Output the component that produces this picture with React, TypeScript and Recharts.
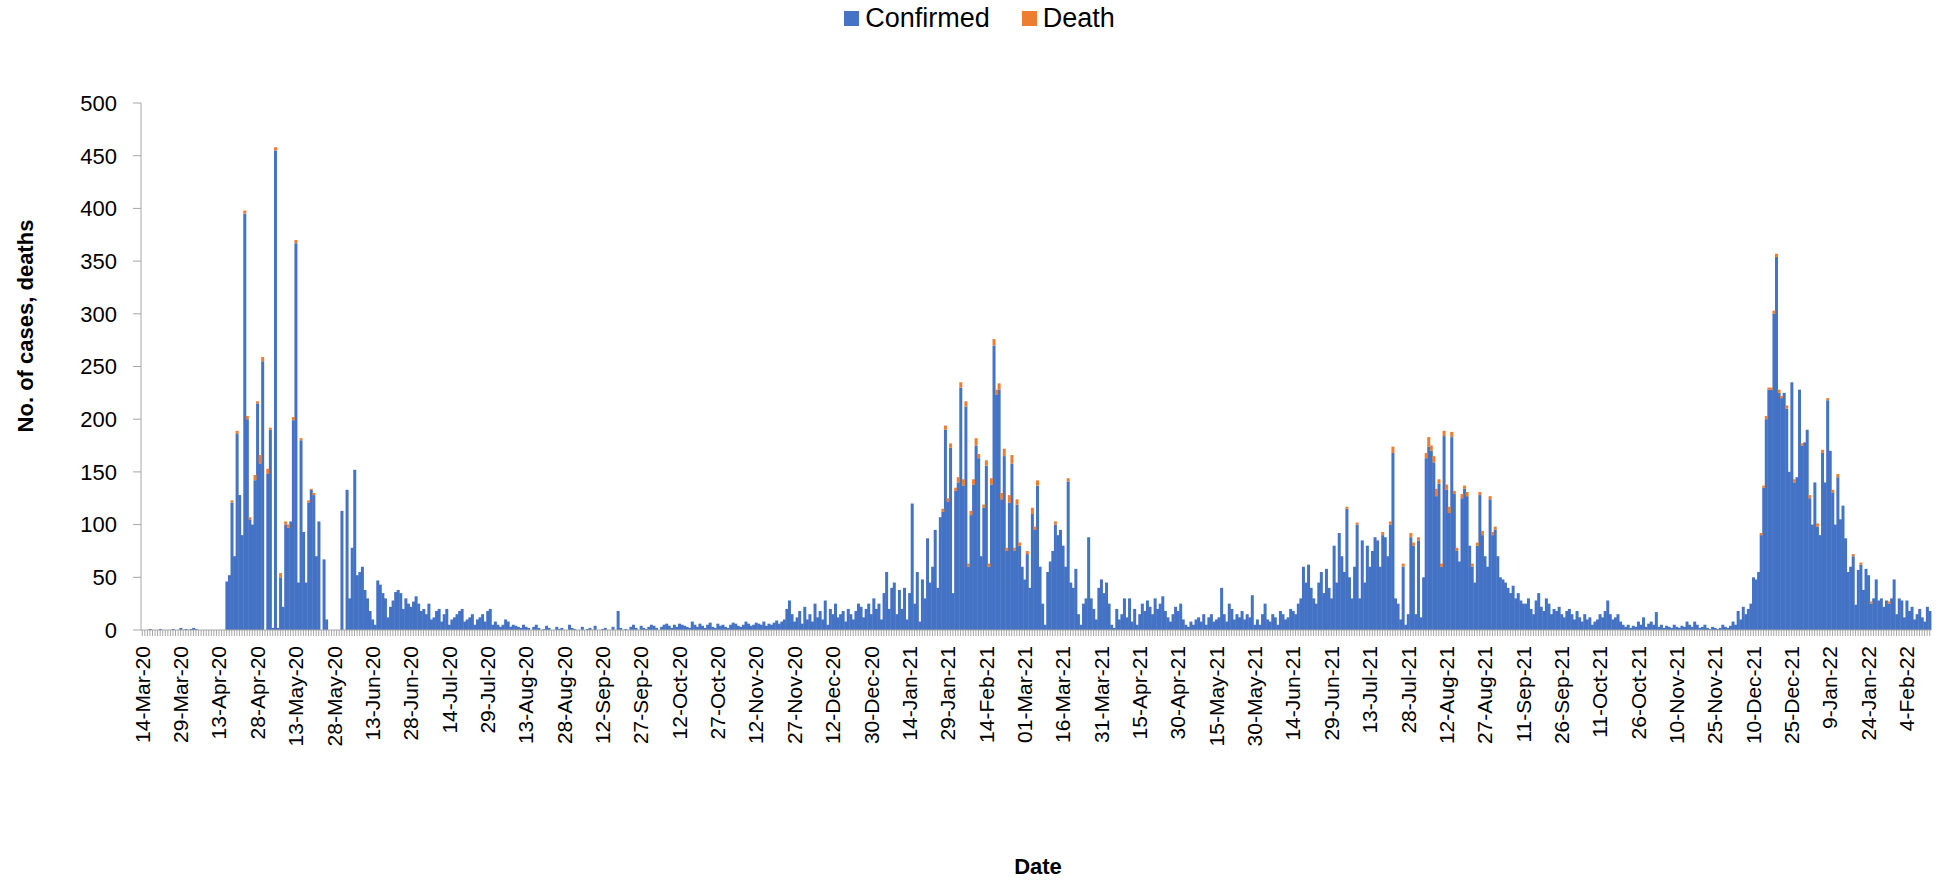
import React from 'react';
import { BarChart, Bar, XAxis, YAxis } from 'recharts';

const FONT = "'Liberation Sans', Arial, sans-serif";

const tickLabels = [
  '14-Mar-20', '29-Mar-20', '13-Apr-20', '28-Apr-20', '13-May-20', '28-May-20', '13-Jun-20', '28-Jun-20',
  '14-Jul-20', '29-Jul-20', '13-Aug-20', '28-Aug-20', '12-Sep-20', '27-Sep-20', '12-Oct-20', '27-Oct-20',
  '12-Nov-20', '27-Nov-20', '12-Dec-20', '30-Dec-20', '14-Jan-21', '29-Jan-21', '14-Feb-21', '01-Mar-21',
  '16-Mar-21', '31-Mar-21', '15-Apr-21', '30-Apr-21', '15-May-21', '30-May-21', '14-Jun-21', '29-Jun-21',
  '13-Jul-21', '28-Jul-21', '12-Aug-21', '27-Aug-21', '11-Sep-21', '26-Sep-21', '11-Oct-21', '26-Oct-21',
  '10-Nov-21', '25-Nov-21', '10-Dec-21', '25-Dec-21', '9-Jan-22', '24-Jan-22', '4-Feb-22',
];
const LABEL_EVERY = 15;

// Daily confirmed cases, in chunks (index 0 = 14-Mar-20)
const confirmedA = [
  0,0,0,1,0,0,0,1,0,0, 0,0,1,0,0,2,0,1,0,1, 2,1,0,0,0,0,0,0,0,0, 0,0,0,
  46,52,121,70,186,128,90,395,200,105, 100,142,215,158,255,0,148,190,2,455,
  2,50,22,100,97,103,199,367,45,180, 93,45,121,133,128,70,103,0,67,10,
  0,0,0,0,0,113,0,133,30,78, 152,52,55,60,38,30,18,10,
  5,47,43,35,30,12,22,28,36,38, 35,20,30,25,22,27,32,25,18,20,
  15,25,10,12,18,20,8,15,20,5, 10,12,15,18,20,8,10,12,15,5,
  10,12,15,8,18,20,5,8,5,3, 5,10,8,3,5,4,3,2,5,
];
const confirmedB = [
  3,
  2,0,3,5,2,0,1,4,2,0, 0,3,1,2,0,0,5,2,1,0, 0,3,0,1,2,0,4,0,0,1,
  2,0,0,3,0,18,2,0,1,0, 3,5,2,0,4,2,1,3,5,4, 2,0,3,5,6,4,2,5,3,6,
  5,4,3,2,8,5,3,6,4,2, 5,7,3,2,6,4,5,3,2,5, 7,6,4,3,5,8,6,4,5,7,
  6,5,8,4,6,5,7,9,6,8,
  10,20,28,15,8,12,18,6,22,10, 15,8,25,12,18,10,28,5,20,15,
  25,12,15,18,8,20,15,10,18,25, 22,12,20,25,15,30,20,25,10,35,
  55,20,40,45,15,38,20,40,10,
];
const confirmedC = [
  35,120,25,55,8,48,30,87,45,60, 95,40,107,112,190,122,173,35,132,140,
  230,137,212,60,109,138,175,163,70,116, 156,60,138,270,223,228,124,165,75,121,
  158,75,119,80,60,48,72,40,110,95, 137,60,25,5,55,65,75,100,90,95,
  80,60,141,45,40,58,
  15,5,25,30,88,30,20,10,40,48, 35,45,25,5,2,20,10,15,30,12,
  30,8,20,5,15,25,18,28,22,15, 30,20,25,32,18,12,8,15,22,18,
  25,10,5,3,8,5,10,12,8,15, 5,12,15,8,10,
  12,40,15,8,25,20,10,15,12,18, 10,15,12,33,5,10,5,15,25,10,
  8,15,12,5,18,15,10,12,20,
];
const confirmedD = [
  18,15,25,30,60,45,62,40,30,25, 45,55,35,58,40,30,80,45,92,70,
  55,115,50,30,60,100,30,85,45,80, 60,75,88,85,60,90,88,70,100,168,
  30,25,10,60,5,15,88,80,15,85, 12,50,163,174,170,159,127,139,60,184,
  133,111,183,129,75,65,125,134,127,80, 60,45,80,128,90,70,60,124,90,95,
  70,50,48,45,40,35,42,30,35,28, 25,
  25,30,20,15,28,35,22,18,30,25, 15,20,18,22,15,12,18,20,15,10,
  18,12,8,15,10,12,5,8,10,15, 12,18,28,15,10,12,15,8,5,3,
  5,2,4,3,8,5,12,3,6,8, 5,17,3,5,2,4,3,2,5,
];
const confirmedE = [
  3,
  2,4,3,8,5,3,8,5,2,3, 5,2,1,3,2,1,2,5,3,2, 4,8,5,18,10,22,15,
  20,25,50,48,55,90,135,200,228,228, 300,354,225,220,225,210,150,235,140,145,
  228,175,178,190,125,100,140,98,90,168, 140,218,170,130,100,145,105,118,87,55,
  60,70,24,57,62,38,58,52,25,30, 48,28,30,22,28,25,30,48,15,30,
  28,12,28,18,22,10,15,20,12,8, 22,18,
];

// Daily deaths as [day index, deaths]; all other days 0
const deathEntries: [number, number][] = [
  [35,2],[37,3],[40,3],[41,3],[42,2],[44,5],[45,2],[46,8],[47,4],[49,5],[50,2],[52,3],[54,4],[56,3],[57,3],
  [59,3],[60,3],[62,2],[65,2],[66,1],[67,2],
  [313,3],[314,4],[315,3],[316,4],[318,3],[319,5],[320,5],[321,6],[322,5],[323,3],[324,4],[325,5],[326,7],
  [327,4],[329,3],[330,5],[331,3],[332,6],[333,6],[334,5],[335,6],[336,6],[337,7],[338,3],[339,7],[340,8],
  [341,3],[342,5],[343,3],[346,3],[348,6],[349,3],[350,5],[357,3],[362,3],
  [471,2],[475,2],[485,3],[488,3],[489,6],[493,3],[496,4],[497,3],[499,3],[502,5],[503,9],[504,5],[505,6],
  [506,7],[507,4],[508,3],[509,5],[510,5],[511,6],[512,5],[513,3],[514,3],[516,4],[517,3],[518,4],[520,3],
  [522,3],[523,3],[524,4],[527,3],[528,3],[529,3],
  [633,2],[634,2],[635,3],[636,2],[637,2],[638,3],[639,3],[640,3],[641,2],[643,3],[646,3],[649,2],[652,3],
  [655,3],[657,3],[659,2],[661,3],[663,3],[669,2],[672,2],[676,2],[683,2],
];

const yTicks = [0, 50, 100, 150, 200, 250, 300, 350, 400, 450, 500];

const confirmed = [...confirmedA, ...confirmedB, ...confirmedC, ...confirmedD, ...confirmedE];
const deaths = confirmed.map(() => 0);
deathEntries.forEach(([i, v]) => { if (i < deaths.length) deaths[i] = v; });
const data = confirmed.map((c, i) => ({ idx: i, confirmed: c, death: deaths[i] }));

const BLUE = '#4472C4';
const ORANGE = '#ED7D31';
const AXIS = '#a6a6a6';

const XTick = (props: any) => {
  const { x, y, payload } = props;
  const i = payload.value as number;
  if (i % LABEL_EVERY !== 0) return <g />;
  const label = tickLabels[i / LABEL_EVERY];
  if (!label) return <g />;
  return (
    <text x={x} y={y} transform={`rotate(-90 ${x} ${y})`} textAnchor="end" dominantBaseline="central"
      fontSize={21} fontFamily={FONT} fill="#000">{label}</text>
  );
};

export default function App() {
  return (
    <div style={{ position: 'absolute', left: 0, top: 0, width: 1943, height: 881, background: '#fff', fontFamily: FONT }}>
      <div style={{ position: 'absolute', top: 3, left: 8, width: 1943, display: 'flex', justifyContent: 'center', alignItems: 'center', fontSize: 27, color: '#000' }}>
        <span style={{ display: 'inline-block', width: 15, height: 15, background: BLUE, marginRight: 6 }} />
        <span style={{ marginRight: 32 }}>Confirmed</span>
        <span style={{ display: 'inline-block', width: 15, height: 15, background: ORANGE, marginRight: 6 }} />
        <span>Death</span>
      </div>
      <BarChart width={1943} height={881} data={data} margin={{ top: 103, right: 12, left: 0, bottom: 0 }}
        barCategoryGap={0}>
        <XAxis dataKey="idx" type="category" interval={0} tickSize={6} tickMargin={10} height={251}
          tick={<XTick />} axisLine={{ stroke: AXIS }} tickLine={{ stroke: AXIS }} />
        <YAxis domain={[0, 500]} ticks={yTicks} width={141} tickSize={8} tickMargin={16}
          axisLine={{ stroke: AXIS }} tickLine={{ stroke: AXIS }}
          tick={{ fontSize: 22, fontFamily: FONT, fill: '#000' }} />
        <Bar dataKey="confirmed" name="Confirmed" stackId="a" fill={BLUE} isAnimationActive={false} />
        <Bar dataKey="death" name="Death" stackId="a" fill={ORANGE} isAnimationActive={false} />
        <text x={25} y={326} transform="rotate(-90 25 326)" textAnchor="middle" dominantBaseline="central"
          fontSize={22} fontWeight="bold" fontFamily={FONT} fill="#000">No. of cases, deaths</text>
        <text x={1038} y={866} textAnchor="middle" dominantBaseline="central"
          fontSize={22} fontWeight="bold" fontFamily={FONT} fill="#000">Date</text>
      </BarChart>
    </div>
  );
}
